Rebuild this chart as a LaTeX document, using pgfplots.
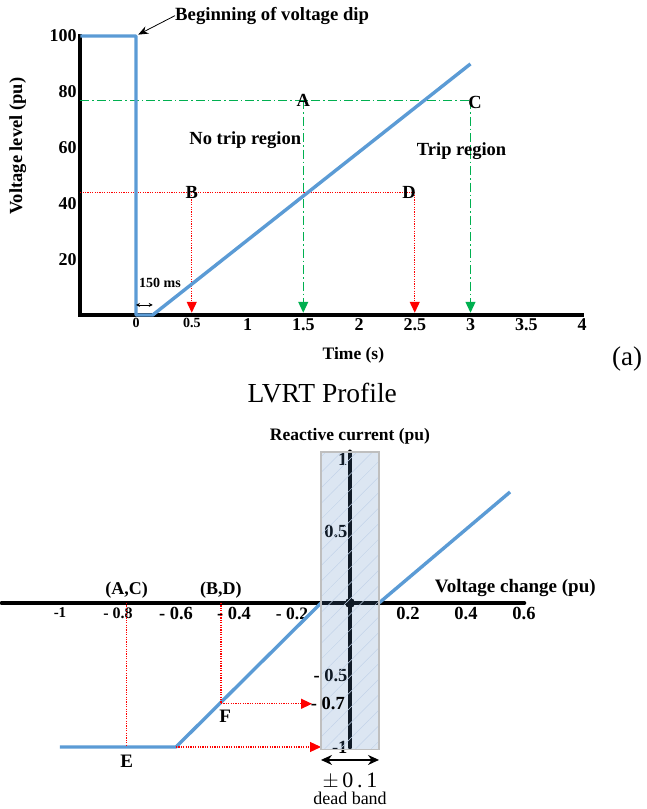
\documentclass[border=0pt]{standalone}
\usepackage{fontspec}
\setmainfont{Liberation Serif}
\usepackage{pgfplots}
\pgfplotsset{compat=1.18}
\usetikzlibrary{arrows.meta,patterns.meta}
\definecolor{lblue}{RGB}{91,155,213}
\definecolor{tgreen}{RGB}{0,176,80}
\definecolor{bandc}{RGB}{80,130,190}
\newcommand{\fs}[1]{\fontsize{#1}{#1}\selectfont}
\tikzset{
  reddot/.style={red, line width=1.3pt, dash pattern=on 1.2pt off 1.2pt},
  greendd/.style={tgreen, line width=1.2pt, dash pattern=on 9pt off 3pt on 1.5pt off 3pt},
  rarr/.style={-{Triangle[width=10pt,length=11pt]}},
}
\begin{document}
\begin{tikzpicture}
\useasboundingbox (0,0) rectangle (646pt,809pt);
% ---------------- top: LVRT profile
\begin{axis}[
  at={(80.25pt,494pt)}, anchor=south west,
  scale only axis, width=501.75pt, height=279pt,
  xmin=-0.5, xmax=4, ymin=0, ymax=100,
  axis lines=left, axis line style={-, line width=3.6pt, line cap=rect},
  xtick={0,0.5,1,1.5,2,2.5,3,3.5,4},
  xticklabels={{\fs{14}0},{\fs{14}0.5},1,1.5,2,2.5,3,3.5,4},
  ytick={20,40,60,80,100},
  yticklabels={20,40,60,80,100},
  major tick length=0pt,
  tick label style={font=\bfseries\fs{18}},
  clip=false,
]
% reference lines
\draw[reddot] (axis cs:-0.5,44) -- (axis cs:2.5,44);
\draw[reddot, rarr] (axis cs:0.5,44) -- (axis cs:0.5,0.8);
\draw[reddot, rarr] (axis cs:2.5,44) -- (axis cs:2.5,0.8);
\draw[greendd] (axis cs:-0.5,77) -- (axis cs:3,77);
\draw[greendd, rarr] (axis cs:1.5,77) -- (axis cs:1.5,0.8);
\draw[greendd, rarr] (axis cs:3,77) -- (axis cs:3,0.8);
% profile
\addplot[lblue, line width=3.4pt, line join=round] coordinates {
  (-0.5,100) (0,100) (0,0) (0.15,0) (3,90)};
% labels
\node[font=\bfseries\fs{18.5}] at (axis cs:1.5,77) {A};
\node[font=\bfseries\fs{18.5}] at (axis cs:0.5,44) {B};
\node[font=\bfseries\fs{18.5}] at (axis cs:3.04,76.3) {C};
\node[font=\bfseries\fs{18.5}] at (axis cs:2.45,44) {D};
\node[font=\bfseries\fs{18.5}] at (axis cs:0.98,62.7) {No trip region};
\node[font=\bfseries\fs{18.5}] at (axis cs:2.92,58.8) {Trip region};
\node[font=\bfseries\fs{18.7}, anchor=west, inner sep=0pt] at (axis cs:0.35,107.3) {Beginning of voltage dip};
\draw[-{Stealth[width=8pt,length=10pt]}, line width=0.8pt] (axis cs:0.35,107.3) -- (axis cs:0.02,100.5);
\node[font=\bfseries\fs{14}] at (axis cs:0.215,11.5) {150 ms};
\draw[{Stealth[width=4pt,length=4pt]}-{Stealth[width=4pt,length=4pt]}, line width=0.6pt] (axis cs:0.0,3.6) -- (axis cs:0.15,3.6);
\node[font=\bfseries\fs{17.5}] at (axis cs:1.95,-14.3) {Time (s)};
\node[font=\bfseries\fs{18.5}, rotate=90] at (axis cs:-1.06,60.5) {Voltage level (pu)};
\node[font=\fs{27}] at (axis cs:4.405,-15.6) {(a)};
\node[font=\fs{27.5}] at (axis cs:1.67,-28) {LVRT Profile};
\end{axis}
% ---------------- bottom: reactive current characteristic
\begin{axis}[
  at={(2pt,62pt)}, anchor=south west,
  scale only axis, width=522pt, height=295.2pt,
  xmin=-1.2, xmax=0.6, ymin=-1.0, ymax=1.05,
  axis lines=middle, axis line style={-, line width=4.6pt, line cap=round},
  xtick={-1,-0.8,-0.6,-0.4,-0.2,0.2,0.4,0.6},
  xticklabels={{\fs{15}-1},{\fs{16}- 0.8},- 0.6,- 0.4,{\fs{17.5}- 0.2},0.2,0.4,0.6},
  ytick={-1,-0.5,0.5,1},
  yticklabels={{-1},{- 0.5},{0.5},{1}},
  major tick length=0pt,
  tick label style={font=\bfseries\fs{18.5}},
  xticklabel style={yshift=-1pt},
  yticklabel style={xshift=1pt},
  clip=false,
]
\fill[black] (axis cs:0,0) circle (5pt);
% blue characteristic
\addplot[lblue, line width=3.4pt, line join=round] coordinates {
  (-1.0,-1) (-0.6,-1) (-0.1,0)};
\addplot[lblue, line width=3.4pt] coordinates {(0.1,0) (0.552,0.771)};
% dotted projections
\draw[reddot] (axis cs:-0.77,0) -- (axis cs:-0.77,-1);
\draw[reddot] (axis cs:-0.445,0) -- (axis cs:-0.445,-0.7);
\draw[reddot, rarr] (axis cs:-0.445,-0.7) -- (axis cs:-0.131,-0.7);
\draw[reddot, rarr] (axis cs:-0.6,-1) -- (axis cs:-0.1,-1);
% dead band
\fill[bandc, fill opacity=0.2] (axis cs:-0.1,-1.02) rectangle (axis cs:0.1,1.048);
\fill[pattern={Lines[angle=45,distance=11pt,line width=0.5pt]}, pattern color=bandc!35] (axis cs:-0.1,-1.02) rectangle (axis cs:0.1,1.048);
\draw[black!25, line width=1.2pt] (axis cs:-0.1,-1.02) rectangle (axis cs:0.1,1.048);
\node[font=\bfseries\fs{18.5}, anchor=east, inner sep=0pt] at (axis cs:-0.017,-0.7) {- 0.7};
% labels
\node[font=\bfseries\fs{18}] at (axis cs:-0.77,0.09) {(A,C)};
\node[font=\bfseries\fs{18}] at (axis cs:-0.445,0.09) {(B,D)};
\node[font=\bfseries\fs{19}] at (axis cs:-0.77,-1.10) {E};
\node[font=\bfseries\fs{19}] at (axis cs:-0.43,-0.785) {F};
\node[font=\bfseries\fs{17.5}] at (axis cs:0,1.16) {Reactive current (pu)};
\node[font=\bfseries\fs{19}] at (axis cs:0.57,0.104) {Voltage change (pu)};
\draw[{Stealth[width=10pt,length=11pt]}-{Stealth[width=10pt,length=11pt]}, line width=1.2pt] (axis cs:-0.1,-1.09) -- (axis cs:0.1,-1.09);
\node[font=\fs{22}, inner sep=0pt] at (axis cs:0,-1.235) {$\pm$\,0\,.\,1};
\node[font=\fs{18}, inner sep=0pt] at (axis cs:0,-1.355) {dead band};
\end{axis}
\end{tikzpicture}
\end{document}
